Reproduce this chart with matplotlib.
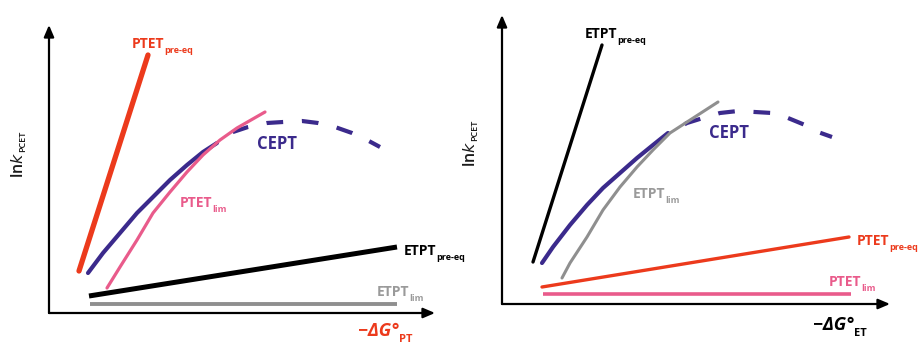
import matplotlib
matplotlib.use('Agg')
import matplotlib.pyplot as plt

plt.rcParams['font.family'] = ['Open Sans', 'DejaVu Sans']

RED = '#ec3a1c'
BLUE = '#3b2a8c'
PINK = '#e95b8b'
GRAY = '#8f8f8f'
GRAY_TXT = '#9a9a9a'

# ---- left panel: -dG(PT) ----
l_ptet_pre_x = [30, 99]
l_ptet_pre_y = [42, 258]
l_cept_x = [39, 54, 71, 88, 104, 121, 138, 154, 168]
l_cept_y = [40, 60, 80, 100, 116, 133, 148, 161, 170]
l_cept_dash_x = [168, 184, 199, 218, 234, 253, 269, 286, 303, 318, 331]
l_cept_dash_y = [170, 181, 186, 190, 191, 192, 190, 186, 180, 173, 166]
l_ptet_lim_x = [58, 71, 88, 104, 121, 138, 154, 171, 188, 216]
l_ptet_lim_y = [25, 46, 73, 100, 121, 141, 158, 173, 185, 201]
l_etpt_pre_x = [40, 348]
l_etpt_pre_y = [17, 66]
l_etpt_lim_x = [41, 348]
l_etpt_lim_y = [9, 9]

# ---- right panel: -dG(ET) ----
r_etpt_pre_x = [31, 100]
r_etpt_pre_y = [42, 259]
r_cept_x = [40, 51, 68, 85, 101, 118, 135, 151, 166]
r_cept_y = [41, 57, 79, 99, 116, 131, 146, 159, 171]
r_cept_dash_x = [166, 185, 201, 218, 236, 253, 270, 286, 303, 316, 330]
r_cept_dash_y = [171, 181, 186, 191, 193, 192, 191, 186, 179, 172, 167]
r_etpt_lim_x = [60, 68, 85, 101, 118, 135, 151, 168, 185, 216]
r_etpt_lim_y = [26, 41, 67, 94, 117, 137, 154, 171, 182, 202]
r_ptet_pre_x = [40, 347]
r_ptet_pre_y = [17, 67]
r_ptet_lim_x = [41, 349]
r_ptet_lim_y = [10, 10]

W, H = 919, 344
fig = plt.figure(figsize=(W / 100, H / 100), dpi=100)
fig.patch.set_facecolor('white')


def make_axes(x0, y0, x1, y1):
    # pixel box -> axes; origin at the axis corner
    ax = fig.add_axes([x0 / W, (H - y0) / H, (x1 - x0) / W, (y0 - y1) / H])
    ax.set_xlim(0, x1 - x0)
    ax.set_ylim(0, y0 - y1)
    ax.axis('off')
    arrow = dict(arrowstyle='-|>,head_length=0.7,head_width=0.3', color='black',
                 lw=1.6, shrinkA=0, shrinkB=0)
    ax.annotate('', xy=(x1 - x0, 0), xytext=(0, 0), arrowprops=arrow)
    ax.annotate('', xy=(0, y0 - y1), xytext=(0, 0), arrowprops=arrow)
    return ax


def label(ax, x, y, main, sub, color, size=10, subsize=6.5, style='normal'):
    t = ax.text(x, y, main, color=color, fontsize=size, fontweight='bold',
                fontstyle=style, ha='left', va='baseline')
    ax.annotate(sub, xy=(1, 0), xycoords=t, xytext=(0, -1.2), textcoords='offset points',
                color=color, fontsize=subsize, fontweight='bold', ha='left', va='baseline')


def ylabel(ax, x, y):
    t = ax.text(x, y, r'ln$\mathbf{\it{k}}$', rotation=90, fontsize=11.5, ha='center',
                va='center', color='#1a1a1a', fontweight='semibold')
    ax.annotate('PCET', xy=(1, 1), xycoords=t, xytext=(0, 0), textcoords='offset points',
                rotation=90, fontsize=6.5, ha='right', va='bottom', color='#1a1a1a',
                fontweight='semibold')


dash = (4, (4, 4.5))
curve = dict(solid_capstyle='round', solid_joinstyle='round')

# left
ax1 = make_axes(49, 313, 435, 25)
ax1.plot(l_etpt_lim_x, l_etpt_lim_y, color=GRAY, lw=2.8, solid_capstyle='butt')
ax1.plot(l_etpt_pre_x, l_etpt_pre_y, color='black', lw=3.6, solid_capstyle='butt')
ax1.plot(l_cept_x, l_cept_y, color=BLUE, lw=3, **curve)
ax1.plot(l_cept_dash_x, l_cept_dash_y, color=BLUE, lw=3, ls=dash, dash_capstyle='butt')
ax1.plot(l_ptet_lim_x, l_ptet_lim_y, color=PINK, lw=2.3, **curve)
ax1.plot(l_ptet_pre_x, l_ptet_pre_y, color=RED, lw=3.8, **curve)
label(ax1, 83, 265, 'PTET', 'pre-eq', RED)
ax1.text(208, 164, 'CEPT', color=BLUE, fontsize=12, fontweight='bold', va='baseline')
label(ax1, 131, 106, 'PTET', 'lim', PINK)
label(ax1, 355, 58, 'ETPT', 'pre-eq', 'black')
label(ax1, 328, 17, 'ETPT', 'lim', GRAY_TXT)
label(ax1, 309, -23, '\u2212\u0394G\u00b0', 'PT', RED, size=13, subsize=8, style='italic')
ylabel(ax1, -30, 148)

# right
ax2 = make_axes(502, 304, 890, 15)
ax2.plot(r_ptet_lim_x, r_ptet_lim_y, color=PINK, lw=2.6, solid_capstyle='butt')
ax2.plot(r_ptet_pre_x, r_ptet_pre_y, color=RED, lw=2.4, **curve)
ax2.plot(r_cept_x, r_cept_y, color=BLUE, lw=3, **curve)
ax2.plot(r_cept_dash_x, r_cept_dash_y, color=BLUE, lw=3, ls=dash, dash_capstyle='butt')
ax2.plot(r_etpt_lim_x, r_etpt_lim_y, color=GRAY, lw=2.2, **curve)
ax2.plot(r_etpt_pre_x, r_etpt_pre_y, color='black', lw=2.4, **curve)
label(ax2, 83, 266, 'ETPT', 'pre-eq', 'black')
ax2.text(207, 166, 'CEPT', color=BLUE, fontsize=12, fontweight='bold', va='baseline')
label(ax2, 131, 106, 'ETPT', 'lim', GRAY_TXT)
label(ax2, 355, 59, 'PTET', 'pre-eq', RED)
label(ax2, 327, 18, 'PTET', 'lim', PINK)
label(ax2, 311, -26, '\u2212\u0394G\u00b0', 'ET', 'black', size=13, subsize=8, style='italic')
ylabel(ax2, -31, 150)

fig.savefig('out.png', dpi=100, facecolor='white')
